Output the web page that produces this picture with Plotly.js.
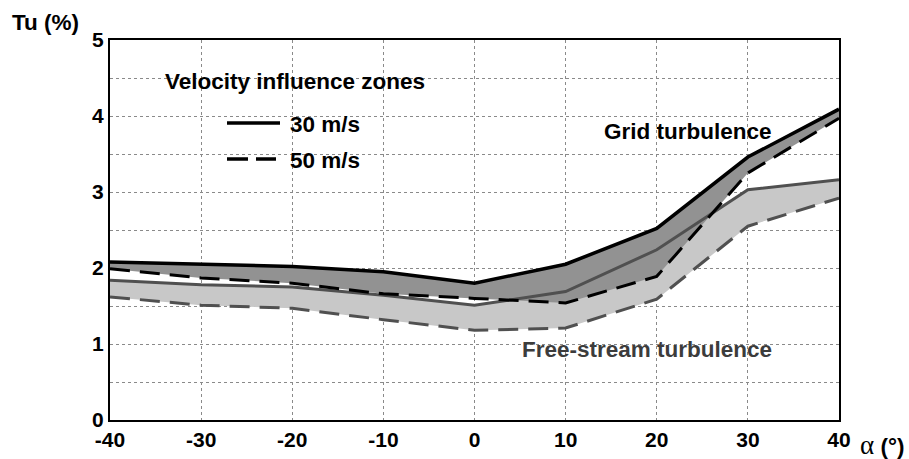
<!DOCTYPE html>
<html>
<head>
<meta charset="utf-8">
<script src="https://cdn.plot.ly/plotly-3.0.1.min.js"></script>
<style>html,body{margin:0;padding:0;background:#fff;}#chart{width:909px;height:459px;}</style>
</head>
<body>
<div id="chart"></div>
<script>
// Angle of attack (degrees)
const alpha = [-40, -30, -20, -10, 0, 10, 20, 30, 40];
// Grid turbulence Tu (%)
const grid30 = [2.08, 2.05, 2.02, 1.95, 1.80, 2.05, 2.52, 3.46, 4.09];
const grid50 = [1.99, 1.87, 1.80, 1.66, 1.60, 1.54, 1.89, 3.25, 3.97];
// Free-stream turbulence Tu (%)
const free30 = [1.84, 1.78, 1.75, 1.64, 1.51, 1.69, 2.24, 3.03, 3.16];
const free50 = [1.62, 1.51, 1.47, 1.32, 1.18, 1.21, 1.59, 2.55, 2.92];
const xTicks = [-40, -30, -20, -10, 0, 10, 20, 30, 40];
const yTicks = [0, 1, 2, 3, 4, 5];

const BLACK = '#000000';
const GRAY = '#505050';
const DARKFILL = 'rgba(146,146,146,1)';
const LIGHTFILL = 'rgba(200,200,200,1)';

const traces = [
  // light band: free-stream turbulence
  {x: alpha, y: free30, mode: 'lines', line: {width: 0}, hoverinfo: 'skip', showlegend: false},
  {x: alpha, y: free50, mode: 'lines', line: {width: 0}, fill: 'tonexty', fillcolor: LIGHTFILL, hoverinfo: 'skip', showlegend: false},
  // dark band: grid turbulence
  {x: alpha, y: grid30, mode: 'lines', line: {width: 0}, hoverinfo: 'skip', showlegend: false},
  {x: alpha, y: grid50, mode: 'lines', line: {width: 0}, fill: 'tonexty', fillcolor: DARKFILL, hoverinfo: 'skip', showlegend: false},
  // lines
  {x: alpha, y: free50, mode: 'lines', name: 'Free-stream 50 m/s', line: {color: GRAY, width: 3, dash: '20px,10px'}, showlegend: false},
  {x: alpha, y: free30, mode: 'lines', name: 'Free-stream 30 m/s', line: {color: GRAY, width: 3}, showlegend: false},
  {x: alpha, y: grid50, mode: 'lines', name: 'Grid 50 m/s', line: {color: BLACK, width: 3, dash: '20px,10px'}, showlegend: false},
  {x: alpha, y: grid30, mode: 'lines', name: 'Grid 30 m/s', line: {color: BLACK, width: 3.5}, showlegend: false}
];

const tickFont = {family: 'Liberation Sans, Arial, sans-serif', size: 21, color: '#000', weight: 'bold'};
const labFont = {family: 'Liberation Sans, Arial, sans-serif', size: 22.5, color: '#000', weight: 'bold'};

const W = 729, H = 380, L = 110, T = 40;
const px = v => (v - L) / W;
const py = v => (T + H - v) / H;

const layout = {
  width: 909, height: 459,
  margin: {l: 110, r: 70, t: 40, b: 39},
  paper_bgcolor: '#fff', plot_bgcolor: '#fff',
  showlegend: false,
  xaxis: {
    range: [-40, 40], tickvals: xTicks, ticktext: xTicks.map(String),
    showgrid: true, gridcolor: '#8a8a8a', griddash: 'dot', gridwidth: 1,
    zeroline: false, showline: true, linecolor: '#000', linewidth: 2, mirror: true,
    ticks: '', tickfont: tickFont, ticklabelstandoff: 0
  },
  yaxis: {
    range: [0, 5], tickvals: yTicks, ticktext: yTicks.map(String),
    showgrid: true, gridcolor: '#8a8a8a', griddash: 'dot', gridwidth: 1,
    minor: {dtick: 0.5, showgrid: true, gridcolor: '#8a8a8a', griddash: 'dot', gridwidth: 1},
    zeroline: false, showline: true, linecolor: '#000', linewidth: 2, mirror: true,
    ticks: '', tickfont: tickFont, ticklabelstandoff: 0
  },
  shapes: [
    {type: 'line', xref: 'paper', yref: 'paper', x0: px(227), x1: px(280), y0: py(123), y1: py(123), line: {color: BLACK, width: 3.5}},
    {type: 'line', xref: 'paper', yref: 'paper', x0: px(227), x1: px(276), y0: py(159), y1: py(159), line: {color: BLACK, width: 3.5, dash: '21px,8px'}}
  ],
  annotations: [
    {text: 'Tu (%)', xref: 'paper', yref: 'paper', x: px(45), y: py(23), xanchor: 'center', yanchor: 'middle', showarrow: false, font: labFont},
    {text: 'Velocity influence zones', xref: 'paper', yref: 'paper', x: px(163), y: py(81), xanchor: 'left', yanchor: 'middle', showarrow: false, font: labFont},
    {text: '30 m/s', xref: 'paper', yref: 'paper', x: px(288), y: py(124), xanchor: 'left', yanchor: 'middle', showarrow: false, font: labFont},
    {text: '50 m/s', xref: 'paper', yref: 'paper', x: px(288), y: py(160), xanchor: 'left', yanchor: 'middle', showarrow: false, font: labFont},
    {text: 'Grid turbulence', xref: 'paper', yref: 'paper', x: px(602), y: py(131), xanchor: 'left', yanchor: 'middle', showarrow: false, font: labFont},
    {text: 'Free-stream turbulence', xref: 'paper', yref: 'paper', x: px(520), y: py(349), xanchor: 'left', yanchor: 'middle', showarrow: false, font: Object.assign({}, labFont, {color: '#3c3c3c'})},
    {text: '<span style="font-family:\'Liberation Serif\',serif;font-weight:normal;font-size:27px">α</span> (°)', xref: 'paper', yref: 'paper', x: px(858), y: py(445), xanchor: 'left', yanchor: 'middle', showarrow: false, font: labFont}
  ]
};

Plotly.newPlot('chart', traces, layout, {displayModeBar: false, staticPlot: true});
</script>
</body>
</html>
